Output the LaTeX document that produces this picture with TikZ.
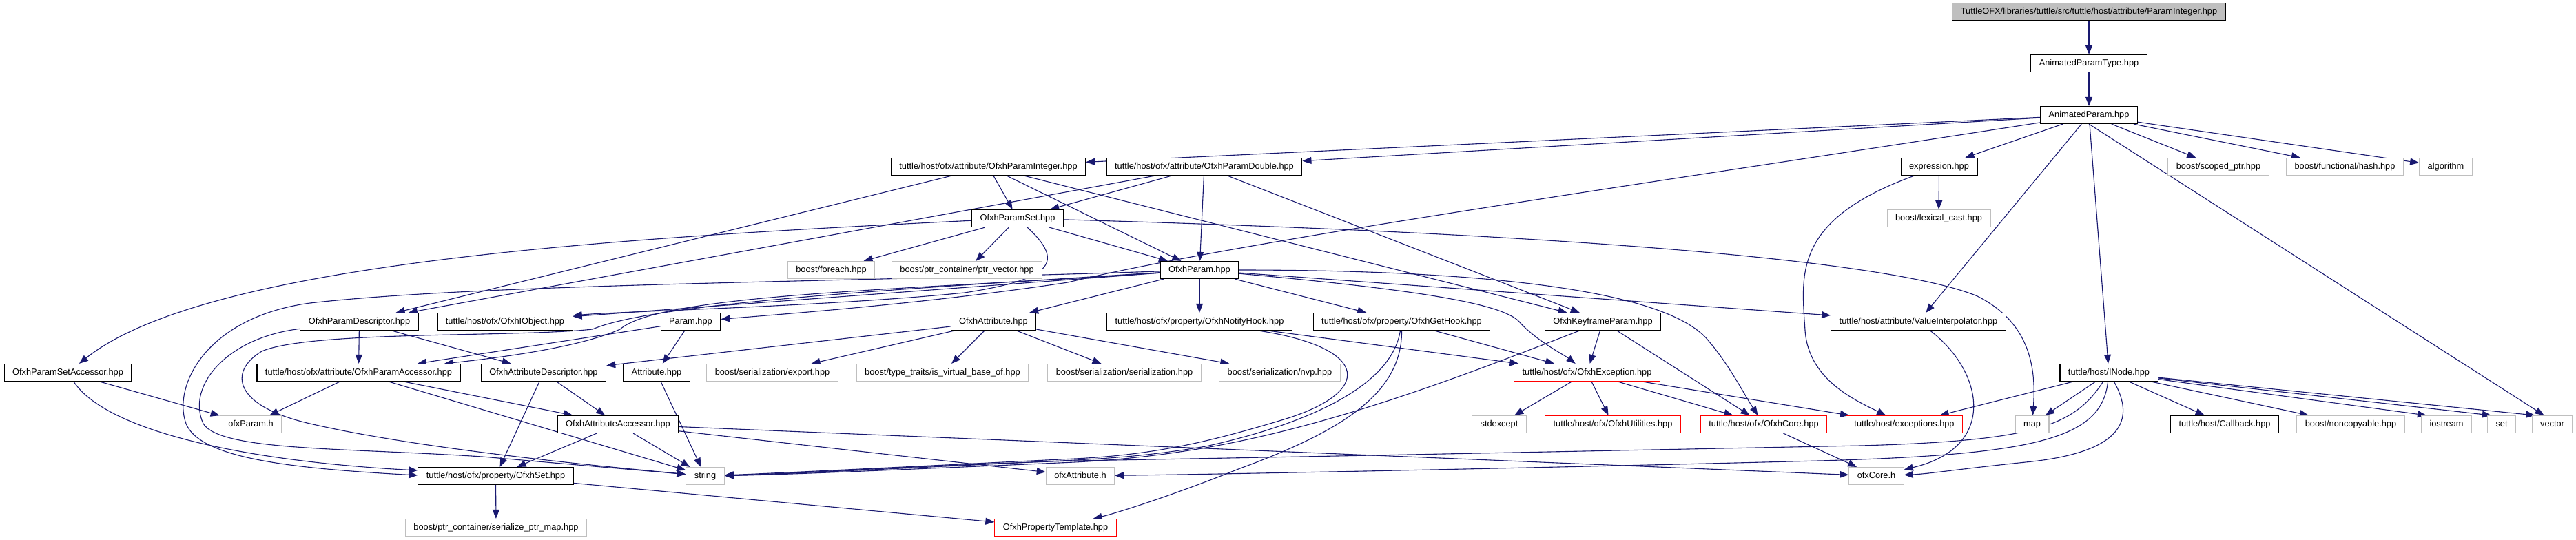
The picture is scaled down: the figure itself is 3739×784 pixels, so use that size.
\documentclass[tikz,border=0pt]{standalone}
\usepackage{fontspec}
\setmainfont{Liberation Sans}
\usetikzlibrary{arrows.meta}
\definecolor{edgeblue}{HTML}{191970}
\definecolor{extgray}{HTML}{BFBFBF}
\newcommand\dxfont{\fontsize{12.8pt}{15pt}\selectfont}
\pgfdeclarelayer{bg}
\pgfsetlayers{bg,main}
\tikzset{
  nd/.style={draw, line width=1.2pt, fill=white, font=\dxfont, minimum height=25pt,
    inner xsep=12pt, inner ysep=0pt, text height=9.6pt, text depth=2.6pt, anchor=center},
  blk/.style={nd, draw=black},
  ext/.style={nd, draw=extgray, line width=1.1pt},
  trunc/.style={nd, draw=red, line width=1.1pt},
  rootn/.style={nd, draw=black, fill=extgray},
  dep/.style={draw=edgeblue, line width=1.1pt, -{Triangle[length=13pt,width=10pt]}}
}
\begin{document}
\begin{tikzpicture}[x=1pt,y=-1pt]
\useasboundingbox (0,0) rectangle (3739,784);
% nodes
\node[rootn] (root) at (3032,17) {TuttleOFX/libraries/tuttle/src/tuttle/host/attribute/ParamInteger.hpp};
\node[blk] (apt) at (3032,92) {AnimatedParamType.hpp};
\node[blk] (ap) at (3032,167) {AnimatedParam.hpp};
\node[blk] (opi) at (1434.5,242) {tuttle/host/ofx/attribute/OfxhParamInteger.hpp};
\node[blk] (opd) at (1748,242) {tuttle/host/ofx/attribute/OfxhParamDouble.hpp};
\node[blk] (expr) at (2814.5,242) {expression.hpp};
\node[ext] (scoped) at (3220,242) {boost/scoped\_ptr.hpp};
\node[ext] (hash) at (3403.5,242) {boost/functional/hash.hpp};
\node[ext] (algo) at (3550,242) {algorithm};
\node[blk] (ops) at (1477,317) {OfxhParamSet.hpp};
\node[ext] (lexcast) at (2814,317) {boost/lexical\_cast.hpp};
\node[ext] (foreach) at (1206.5,392) {boost/foreach.hpp};
\node[ext] (ptrvec) at (1403.5,392) {boost/ptr\_container/ptr\_vector.hpp};
\node[blk] (op) at (1741,392) {OfxhParam.hpp};
\node[blk] (opdesc) at (521.5,467) {OfxhParamDescriptor.hpp};
\node[blk] (iobj) at (733,467) {tuttle/host/ofx/OfxhIObject.hpp};
\node[blk] (param) at (1002.5,467) {Param.hpp};
\node[blk] (oattr) at (1442,467) {OfxhAttribute.hpp};
\node[blk] (notify) at (1741,467) {tuttle/host/ofx/property/OfxhNotifyHook.hpp};
\node[blk] (gethook) at (2034.5,467) {tuttle/host/ofx/property/OfxhGetHook.hpp};
\node[blk] (keyframe) at (2326.5,467) {OfxhKeyframeParam.hpp};
\node[blk] (valinterp) at (2784.5,467) {tuttle/host/attribute/ValueInterpolator.hpp};
\node[blk] (opsa) at (98.5,541) {OfxhParamSetAccessor.hpp};
\node[blk] (opacc) at (520.5,541) {tuttle/host/ofx/attribute/OfxhParamAccessor.hpp};
\node[blk] (oadesc) at (789,541) {OfxhAttributeDescriptor.hpp};
\node[blk] (attr) at (953,541) {Attribute.hpp};
\node[ext] (export) at (1121,541) {boost/serialization/export.hpp};
\node[ext] (typetr) at (1368,541) {boost/type\_traits/is\_virtual\_base\_of.hpp};
\node[ext] (serial) at (1632,541) {boost/serialization/serialization.hpp};
\node[ext] (nvp) at (1857.5,541) {boost/serialization/nvp.hpp};
\node[trunc] (exc) at (2303.5,541) {tuttle/host/ofx/OfxhException.hpp};
\node[blk] (inode) at (3061,541) {tuttle/host/INode.hpp};
\node[ext] (ofxparam) at (364,616) {ofxParam.h};
\node[blk] (oaacc) at (897,616) {OfxhAttributeAccessor.hpp};
\node[ext] (stdexc) at (2176,616) {stdexcept};
\node[trunc] (utils) at (2341,616) {tuttle/host/ofx/OfxhUtilities.hpp};
\node[trunc] (core) at (2560,616) {tuttle/host/ofx/OfxhCore.hpp};
\node[trunc] (excs) at (2764,616) {tuttle/host/exceptions.hpp};
\node[ext] (map) at (2949.5,616) {map};
\node[blk] (callback) at (3229,616) {tuttle/host/Callback.hpp};
\node[ext] (noncopy) at (3412,616) {boost/noncopyable.hpp};
\node[ext] (iostream) at (3551,616) {iostream};
\node[ext] (set) at (3631,616) {set};
\node[ext] (vector) at (3704.5,616) {vector};
\node[blk] (oset) at (719.5,691) {tuttle/host/ofx/property/OfxhSet.hpp};
\node[ext] (string) at (1023.5,691) {string};
\node[ext] (ofxattr) at (1568,691) {ofxAttribute.h};
\node[ext] (ofxcore) at (2723.5,691) {ofxCore.h};
\node[ext] (serptr) at (720,766) {boost/ptr\_container/serialize\_ptr\_map.hpp};
\node[trunc] (proptmpl) at (1532,766) {OfxhPropertyTemplate.hpp};

\begin{pgfonlayer}{bg}
\draw[dep] (root) -- (apt);
\draw[dep] (apt) -- (ap);
% AnimatedParam
\draw[dep] (ap) -- (opi);
\draw[dep] (ap) -- (opd);
\draw[dep] (ap) -- (expr);
\draw[dep] (ap) -- (scoped);
\draw[dep] (ap) -- (hash);
\draw[dep] (ap) -- (algo);
\draw[dep] (ap) -- (inode);
\draw[dep] (ap.south) -- ([xshift=18pt]vector.north west);
\draw[dep] (ap) -- (valinterp);
\draw[dep] (ap) .. controls (2400,265) and (1800,350) .. (1550,410) .. controls (1350,440) and (1150,455) .. (param);
% OfxhParamInteger / Double
\draw[dep] (opi) -- (opdesc);
\draw[dep] (opi) -- (ops);
\draw[dep] (opi) -- (op);
\draw[dep] (opi) -- (keyframe);
\draw[dep] (opd) -- (ops);
\draw[dep] (opd) -- (op);
\draw[dep] (opd) -- (opdesc);
\draw[dep] (opd) -- (keyframe);
% expression
\draw[dep] (expr) -- (lexcast);
\draw[dep] (expr) .. controls (2600,320) and (2615,400) .. (2620,480) .. controls (2625,550) and (2690,580) .. (excs);
% OfxhParamSet
\draw[dep] (ops) .. controls (900,345) and (300,380) .. (opsa);
\draw[dep] (ops) -- (foreach);
\draw[dep] (ops) -- (ptrvec);
\draw[dep] (ops) -- (op);
\draw[dep] (ops) .. controls (2300,340) and (2750,380) .. (2870,430) .. controls (2950,470) and (2955,540) .. (map);
\draw[dep] (ops) .. controls (1545,380) and (1530,405) .. (1400,425) .. controls (1200,445) and (900,452) .. (iobj);
% OfxhParam
\draw[dep] (op) -- (iobj);
\draw[dep] (op) .. controls (1350,420) and (960,425) .. (900,478) .. controls (840,505) and (720,520) .. (opacc);
\draw[dep] (op) .. controls (1200,410) and (700,412) .. (450,440) .. controls (300,460) and (250,560) .. (270,615) .. controls (290,665) and (420,680) .. ([yshift=1pt]oset.west);
\draw[dep] (op) .. controls (1300,420) and (950,440) .. (860,478) .. controls (750,490) and (450,480) .. (380,510) .. controls (330,540) and (340,590) .. (450,615) .. controls (600,650) and (850,675) .. (string);
\draw[dep] (op) -- (oattr);
\draw[dep] (op) -- (notify);
\draw[dep] (op) -- (gethook);
\draw[dep] (op) -- (valinterp);
\draw[dep] (op) .. controls (2150,392) and (2420,420) .. (2480,495) .. controls (2510,530) and (2530,570) .. (core);
\draw[dep] (op) .. controls (2050,420) and (2180,440) .. (2205,467) .. controls (2230,495) and (2270,515) .. (exc);
% OfxhParamDescriptor
\draw[dep] (opdesc) -- (opacc);
\draw[dep] (opdesc) -- (oadesc);
\draw[dep] (opdesc) .. controls (330,490) and (270,560) .. (295,615) .. controls (320,655) and (500,650) .. (700,663) -- (string);
% Param.hpp
\draw[dep] (param) -- (attr);
\draw[dep] (param) -- (opacc);
% OfxhAttribute
\draw[dep] (oattr) -- (oadesc);
\draw[dep] (oattr) -- (export);
\draw[dep] (oattr) -- (typetr);
\draw[dep] (oattr) -- (serial);
\draw[dep] (oattr) -- (nvp);
% hooks
\draw[dep] (notify) -- (exc);
\draw[dep] (notify) .. controls (1990,505) and (1995,570) .. (1860,610) .. controls (1760,640) and (1680,660) .. (1560,666) .. controls (1350,676) and (1150,686) .. (string);
\draw[dep] (gethook) -- (exc);
\draw[dep] (gethook) .. controls (2020,560) and (1900,615) .. (1750,648) .. controls (1680,660) and (1620,665) .. (1560,668) .. controls (1350,678) and (1150,688) .. (string);
\draw[dep] (gethook) .. controls (2035,570) and (1950,625) .. (1800,680) .. controls (1700,720) and (1620,745) .. (proptmpl);
% KeyframeParam
\draw[dep] (keyframe) -- (exc);
\draw[dep] (keyframe) -- (core);
\draw[dep] (keyframe) .. controls (2150,535) and (1950,615) .. (1750,650) .. controls (1680,662) and (1620,668) .. (1560,671) .. controls (1350,680) and (1150,689) .. (string);
% OfxhException
\draw[dep] (exc) -- (stdexc);
\draw[dep] (exc) -- (utils);
\draw[dep] (exc) -- (core);
\draw[dep] (exc) -- (excs);
\draw[dep] (core) -- (ofxcore);
\draw[dep] (valinterp) .. controls (2880,540) and (2900,650) .. (ofxcore);
% INode
\draw[dep] (inode) -- (excs);
\draw[dep] (inode) -- (map);
\draw[dep] (inode) -- (callback);
\draw[dep] (inode) -- (noncopy);
\draw[dep] (inode) -- ([xshift=8pt]iostream.north west);
\draw[dep] (inode) -- ([xshift=6pt]set.north west);
\draw[dep] (inode) -- ([xshift=5pt]vector.north west);
\draw[dep] (inode) .. controls (3010,620) and (2950,640) .. (2700,647) .. controls (2300,655) and (1800,665) .. (1560,669) .. controls (1350,675) and (1150,688) .. (string);
\draw[dep] (inode) .. controls (3050,640) and (2950,662) .. (2600,670) .. controls (2200,680) and (1800,688) .. (ofxattr);
\draw[dep] (inode) .. controls (3100,610) and (3080,655) .. (2950,670) .. controls (2850,680) and (2800,688) .. (ofxcore);
% lower part
\draw[dep] (opsa) -- (ofxparam);
\draw[dep] (opsa) .. controls (150,620) and (330,668) .. ([yshift=8pt]oset.west);
\draw[dep] (opacc) -- (ofxparam);
\draw[dep] (opacc) -- (oaacc);
\draw[dep] (opacc) -- (string);
\draw[dep] (oadesc) -- (oaacc);
\draw[dep] (oadesc) -- (oset);
\draw[dep] (attr) -- (string);
\draw[dep] (oaacc) -- (oset);
\draw[dep] (oaacc) -- (string);
\draw[dep] (oaacc) -- (ofxattr);
\draw[dep] (oaacc) -- (ofxcore);
\draw[dep] (oset) -- (serptr);
\draw[dep] (oset) -- (proptmpl);
\end{pgfonlayer}
\end{tikzpicture}
\end{document}
